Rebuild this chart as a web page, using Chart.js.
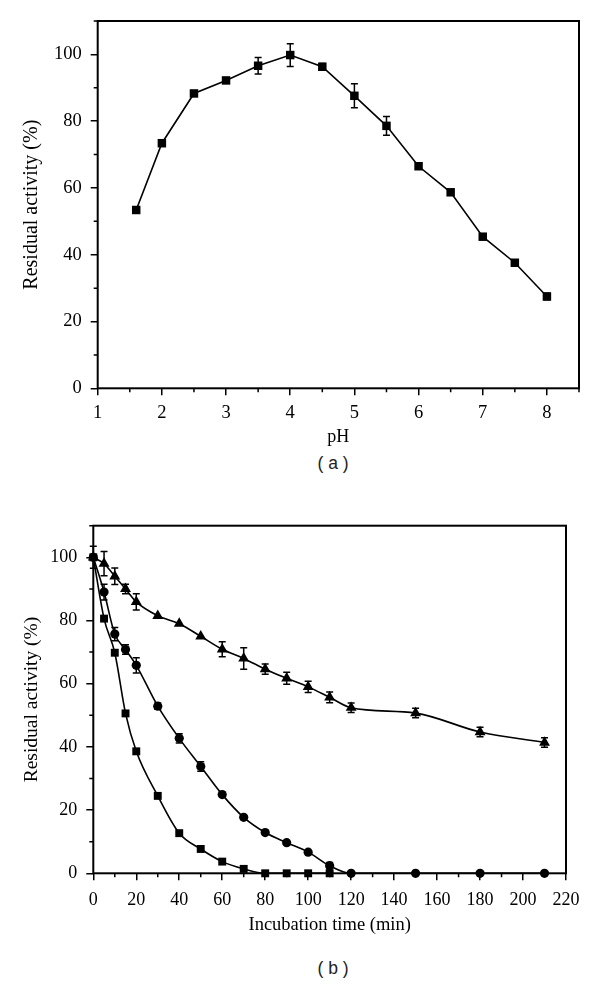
<!DOCTYPE html>
<html>
<head>
<meta charset="utf-8">
<title>Residual activity</title>
<script src="https://cdn.jsdelivr.net/npm/chart.js@4.4.0/dist/chart.umd.min.js"></script>
<style>
  html, body { margin: 0; padding: 0; background: #fff; }
  body { width: 600px; height: 990px; position: relative; overflow: hidden; }
  canvas { position: absolute; left: 0; }
  #chartA { top: 0; }
  #chartB { top: 500px; }
  .panel {
    position: absolute; left: 0; width: 666px; text-align: center;
    font-family: "Liberation Sans", Arial, sans-serif; font-size: 17.5px; color: #222;
  }
</style>
</head>
<body>
<canvas id="chartA" width="600" height="452"></canvas>
<div class="panel" style="top:453px">( a )</div>
<canvas id="chartB" width="600" height="440"></canvas>
<div class="panel" style="top:958px">( b )</div>

<script>
// (a) pH profile
const phValues   = [1.6, 2, 2.5, 3, 3.5, 4, 4.5, 5, 5.5, 6, 6.5, 7, 7.5, 8];
const phActivity = [53.4, 73.4, 88.3, 92.2, 96.6, 99.8, 96.3, 87.6, 78.6, 66.5, 58.7, 45.4, 37.6, 27.5];
const phError    = [0, 0, 0, 0, 2.5, 3.4, 1, 3.6, 2.8, 0, 0, 0, 0, 1];

// (b) stability over time
const timePoints       = [0, 5, 10, 15, 20, 30, 40, 50, 60, 70, 80, 90, 100, 110, 120, 150, 180, 210];
const triangleActivity = [100, 98, 94, 90, 85.9, 81.5, 79, 75, 70.9, 68, 64.6, 61.7, 59, 55.7, 52.4, 50.7, 44.7, 41.4];
const triangleError    = [3.5, 3.8, 2.6, 1.5, 2.6, 0, 0, 0, 2.4, 3.4, 1.6, 1.9, 1.8, 1.7, 1.5, 1.5, 1.5, 1.5];
const circleActivity   = [100, 89, 75.7, 70.8, 65.8, 52.9, 42.7, 33.8, 24.9, 17.7, 12.9, 9.7, 6.7, 2.4, 0, 0, 0, 0];
const circleError      = [0, 2.5, 2.1, 1.5, 2.4, 1, 1.5, 1.5, 0, 0, 0, 0, 0, 1, 0, 0, 0, 0];
const squareTimes      = [0, 5, 10, 15, 20, 30, 40, 50, 60, 70, 80, 90, 100, 110];
const squareActivity   = [100, 80.6, 69.8, 50.6, 38.6, 24.5, 12.7, 7.7, 3.7, 1.4, 0, 0, 0, 0];

const yTickLabels = [0, 20, 40, 60, 80, 100];

const serif = "'Liberation Serif', 'DejaVu Serif', serif";

// which x ticks get a label (and a long tick), per canvas
const xMajorTest = {
  chartA: v => Number.isInteger(v) && v <= 8,
  chartB: v => v % 20 === 0
};

function toPoints(xs, ys) {
  return xs.map((x, i) => ({ x: x, y: ys[i] }));
}

// error bars
const errorBarPlugin = {
  id: 'errorBars',
  afterDatasetsDraw(chart) {
    const ctx = chart.ctx;
    const yScale = chart.scales.y;
    chart.data.datasets.forEach((ds, di) => {
      if (!ds.errors) return;
      const meta = chart.getDatasetMeta(di);
      meta.data.forEach((pt, i) => {
        const e = ds.errors[i];
        if (!e) return;
        const v = ds.data[i].y;
        const top = yScale.getPixelForValue(v + e);
        const bot = yScale.getPixelForValue(v - e);
        ctx.save();
        ctx.strokeStyle = '#000';
        ctx.lineWidth = 1.5;
        ctx.beginPath();
        ctx.moveTo(pt.x, top); ctx.lineTo(pt.x, bot);
        ctx.moveTo(pt.x - 3.5, top); ctx.lineTo(pt.x + 3.5, top);
        ctx.moveTo(pt.x - 3.5, bot); ctx.lineTo(pt.x + 3.5, bot);
        ctx.stroke();
        ctx.restore();
      });
    });
  }
};

// frame round the plot, plus the short minor ticks
const framePlugin = {
  id: 'frame',
  afterDraw(chart) {
    const { left, top, right, bottom } = chart.chartArea;
    const ctx = chart.ctx;
    const { x, y } = chart.scales;
    const isMajor = xMajorTest[chart.canvas.id];
    ctx.save();
    ctx.strokeStyle = '#000';
    ctx.lineWidth = 1.5;
    ctx.beginPath();
    x.ticks.forEach(t => {
      if (isMajor(t.value)) return;
      const px = x.getPixelForValue(t.value);
      ctx.moveTo(px, bottom); ctx.lineTo(px, bottom + 4);
    });
    y.ticks.forEach(t => {
      if (yTickLabels.includes(t.value)) return;
      const py = y.getPixelForValue(t.value);
      ctx.moveTo(left, py); ctx.lineTo(left - 4, py);
    });
    ctx.stroke();
    ctx.lineWidth = 2;
    ctx.strokeRect(left, top, right - left, bottom - top);
    ctx.restore();
  }
};

function buildScales(o) {
  return {
    x: {
      type: 'linear',
      min: o.xMin, max: o.xMax,
      afterFit(scale) { scale.height = o.xHeight; },
      border: { display: false },
      grid: {
        drawOnChartArea: false, tickLength: 7, lineWidth: 1.5,
        color: c => (c.tick && o.xMajor(c.tick.value) ? '#000' : 'rgba(0,0,0,0)')
      },
      ticks: {
        stepSize: o.xStep,
        autoSkip: false,
        maxRotation: 0,
        padding: o.xPad,
        color: '#000',
        font: { family: serif, size: o.tickSize },
        callback: v => (o.xMajor(v) ? v : '')
      },
      title: {
        display: true, text: o.xTitle, color: '#000',
        font: { family: serif, size: o.xTitleSize },
        padding: { top: 0, bottom: o.xTitlePad }
      }
    },
    y: {
      type: 'linear',
      min: 0, max: 110,
      afterFit(scale) { scale.width = o.yWidth; },
      border: { display: false },
      grid: {
        drawOnChartArea: false, tickLength: 7, lineWidth: 1.5,
        color: c => (c.tick && yTickLabels.includes(c.tick.value) ? '#000' : 'rgba(0,0,0,0)')
      },
      ticks: {
        stepSize: 10,
        autoSkip: false,
        padding: o.yPad,
        color: '#000',
        font: { family: serif, size: o.tickSize },
        callback: v => (yTickLabels.includes(v) ? v : '')
      },
      title: {
        display: true, text: 'Residual activity (%)', color: '#000',
        font: { family: serif, size: o.yTitleSize },
        padding: { top: o.yTitlePad, bottom: 0 }
      }
    }
  };
}

const commonOptions = {
  responsive: false,
  animation: false,
  devicePixelRatio: 1,
  plugins: { legend: { display: false }, tooltip: { enabled: false } }
};

new Chart(document.getElementById('chartA'), {
  type: 'line',
  data: {
    datasets: [{
      data: toPoints(phValues, phActivity),
      errors: phError,
      borderColor: '#000',
      borderWidth: 1.6,
      backgroundColor: '#000',
      pointStyle: 'rect',
      pointRadius: 6,
      pointBorderWidth: 0,
      tension: 0,
      clip: false
    }]
  },
  options: Object.assign({}, commonOptions, {
    layout: { padding: { left: 0, right: 21, top: 21, bottom: 0 } },
    scales: buildScales({
      xMin: 1, xMax: 8.5, xStep: 0.5, xHeight: 63.7, xPad: 7,
      xMajor: xMajorTest.chartA,
      xTitle: 'pH', xTitleSize: 18, xTitlePad: 4,
      yWidth: 97.7, yPad: 9, tickSize: 18.5, yTitleSize: 20, yTitlePad: 20
    })
  }),
  plugins: [errorBarPlugin, framePlugin]
});

const lineStyle = {
  borderColor: '#000',
  borderWidth: 1.6,
  backgroundColor: '#000',
  pointBorderWidth: 0,
  cubicInterpolationMode: 'monotone',
  clip: false
};

new Chart(document.getElementById('chartB'), {
  type: 'line',
  data: {
    datasets: [
      Object.assign({ data: toPoints(squareTimes, squareActivity), pointStyle: 'rect', pointRadius: 5.6 }, lineStyle),
      Object.assign({ data: toPoints(timePoints, circleActivity), errors: circleError, pointStyle: 'circle', pointRadius: 4.6 }, lineStyle),
      Object.assign({ data: toPoints(timePoints, triangleActivity), errors: triangleError, pointStyle: 'triangle', pointRadius: 6.3 }, lineStyle)
    ]
  },
  options: Object.assign({}, commonOptions, {
    layout: { padding: { left: 0, right: 34, top: 25.7, bottom: 0 } },
    scales: buildScales({
      xMin: 0, xMax: 220, xStep: 10, xHeight: 66.7, xPad: 9,
      xMajor: xMajorTest.chartB,
      xTitle: 'Incubation time (min)', xTitleSize: 18.5, xTitlePad: 4,
      yWidth: 93.3, yPad: 9, tickSize: 18, yTitleSize: 19.5, yTitlePad: 20
    })
  }),
  plugins: [errorBarPlugin, framePlugin]
});
</script>
</body>
</html>
